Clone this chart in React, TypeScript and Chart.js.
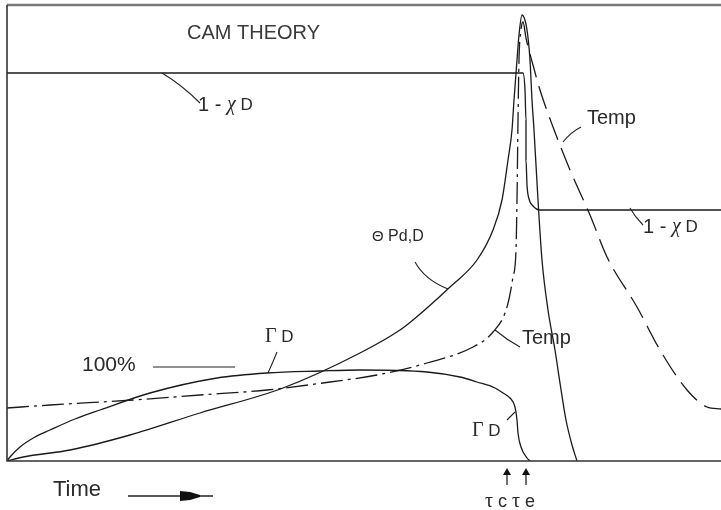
import React, { useEffect, useRef } from "react";
import { Chart, registerables } from "chart.js";
Chart.register(...registerables);

const X_MAX = 714;
const Y_MAX = 456;

// curves in (time, level) units
const oneMinusChiD = [[0,388],[516,388],[518,371],[519,341],[519,301],[520,276],[522,262],[526,255],[533,251],[545,251],[714,251]];
const thetaPdD = [[0,0],[16,4],[63,11],[123,26],[193,48],[276,73],[353,108],[393,131],[406,141],[443,174],[470,201],[486,231],[495,261],[501,301],[505,331],[507,361],[510,401],[512,426],[515,446],[520,431],[523,401],[525,361],[527,331],[531,261],[535,201],[541,151],[548,111],[553,78],[559,41],[565,16],[570,0]];
const gammaD = [[0,0],[3,4],[13,14],[28,24],[43,31],[68,42],[93,51],[143,68],[210,83],[260,88],[313,90],[353,91],[420,89],[453,84],[470,79],[488,73],[496,68],[503,63],[508,54],[510,41],[511,28],[514,14],[520,3],[523,0]];
const temperature = [[0,53],[43,56],[126,61],[193,66],[260,71],[323,79],[370,86],[420,98],[466,114],[486,129],[500,154],[506,184],[509,211],[510,261],[511,341],[512,401],[514,431],[516,439],[519,423],[526,396],[533,371],[546,334],[563,291],[583,246],[600,204],[630,154],[653,111],[680,71],[700,54],[714,52]];
const TEMP_PEAK_X = 516;

type Part = { t: string; f: string };
const SANS = "'Liberation Sans', Arial, sans-serif";
const SERIF = "'Liberation Serif', 'Times New Roman', serif";

const textLabels: { x: number; y: number; parts: Part[]; color?: string }[] = [
  { x: 180, y: 428, parts: [{ t: "CAM THEORY", f: `20px ${SANS}` }], color: "#3a3a3a" },
  { x: 191, y: 356, parts: [{ t: "1 - ", f: `20px ${SANS}` }, { t: "χ", f: `italic 20px ${SERIF}` }, { t: " D", f: `17px ${SANS}` }] },
  { x: 580, y: 343, parts: [{ t: "Temp", f: `20px ${SANS}` }] },
  { x: 636, y: 234, parts: [{ t: "1 - ", f: `20px ${SANS}` }, { t: "χ", f: `italic 20px ${SERIF}` }, { t: " D", f: `17px ${SANS}` }] },
  { x: 365, y: 224, parts: [{ t: "Θ", f: `15px ${SANS}` }, { t: " Pd,D", f: `16px ${SANS}` }] },
  { x: 258, y: 124, parts: [{ t: "Γ", f: `20px ${SERIF}` }, { t: " D", f: `17px ${SANS}` }] },
  { x: 75, y: 96, parts: [{ t: "100%", f: `21px ${SANS}` }] },
  { x: 515, y: 123, parts: [{ t: "Temp", f: `20px ${SANS}` }] },
  { x: 465, y: 30, parts: [{ t: "Γ", f: `20px ${SERIF}` }, { t: " D", f: `17px ${SANS}` }] },
  { x: 46, y: -29, parts: [{ t: "Time", f: `22px ${SANS}` }] },
  { x: 478, y: -41, parts: [{ t: "τ", f: `20px ${SERIF}` }, { t: " c ", f: `18px ${SANS}` }, { t: "τ", f: `20px ${SERIF}` }, { t: " e", f: `18px ${SANS}` }] },
];

// leader lines [x0,y0, cx,cy, x1,y1]
const leaders: number[][] = [
  [155, 388, 175, 376, 193, 358],
  [556, 319, 564, 329, 574, 334],
  [623, 253, 628, 244, 636, 236],
  [408, 199, 418, 181, 441, 172],
  [270, 109, 266, 99, 261, 88],
  [146, 94, 187, 94, 228, 94],
  [488, 131, 500, 121, 513, 114],
  [500, 41, 504, 45, 508, 49],
];

export default function App() {
  const ref = useRef<HTMLCanvasElement>(null);
  useEffect(() => {
    document.body.style.margin = "0";
    const toXY = (a: number[][]) => a.map(([x, y]) => ({ x, y }));
    const overlay = {
      id: "overlay",
      afterDatasetsDraw(chart: any) {
        const { ctx, scales, chartArea } = chart;
        const X = (v: number) => scales.x.getPixelForValue(v);
        const Y = (v: number) => scales.y.getPixelForValue(v);
        ctx.save();
        // frame
        ctx.strokeStyle = "#777";
        ctx.lineWidth = 2.5;
        ctx.beginPath();
        ctx.moveTo(chartArea.left, chartArea.top);
        ctx.lineTo(chartArea.right, chartArea.top);
        ctx.stroke();
        ctx.strokeStyle = "#333";
        ctx.lineWidth = 1.6;
        ctx.beginPath();
        ctx.moveTo(chartArea.left, chartArea.top);
        ctx.lineTo(chartArea.left, chartArea.bottom);
        ctx.lineTo(chartArea.right, chartArea.bottom);
        ctx.stroke();
        // leaders
        ctx.strokeStyle = "#222";
        ctx.lineWidth = 1.1;
        leaders.forEach(([x0, y0, cx, cy, x1, y1]) => {
          ctx.beginPath();
          ctx.moveTo(X(x0), Y(y0));
          ctx.quadraticCurveTo(X(cx), Y(cy), X(x1), Y(y1));
          ctx.stroke();
        });
        // time arrow
        ctx.lineWidth = 1.3;
        ctx.beginPath();
        ctx.moveTo(X(121), Y(-35));
        ctx.lineTo(X(206), Y(-35));
        ctx.stroke();
        ctx.fillStyle = "#111";
        ctx.beginPath();
        ctx.moveTo(X(173), Y(-30));
        ctx.lineTo(X(183), Y(-31));
        ctx.lineTo(X(193), Y(-34));
        ctx.lineTo(X(193), Y(-36));
        ctx.lineTo(X(183), Y(-39));
        ctx.lineTo(X(173), Y(-40));
        ctx.closePath();
        ctx.fill();
        // tau arrows
        [500, 519].forEach((ax) => {
          ctx.beginPath();
          ctx.moveTo(X(ax), Y(-24));
          ctx.lineTo(X(ax), Y(-12));
          ctx.stroke();
          ctx.beginPath();
          ctx.moveTo(X(ax), Y(-7));
          ctx.lineTo(X(ax) - 4, Y(-14));
          ctx.lineTo(X(ax) + 4, Y(-14));
          ctx.closePath();
          ctx.fill();
        });
        // texts
        ctx.textBaseline = "middle";
        ctx.textAlign = "left";
        textLabels.forEach((l) => {
          let px = X(l.x);
          const py = Y(l.y);
          ctx.fillStyle = l.color || "#2a2a2a";
          l.parts.forEach((p) => {
            ctx.font = p.f;
            ctx.fillText(p.t, px, py);
            px += ctx.measureText(p.t).width;
          });
        });
        ctx.restore();
      },
    };
    const line = { borderColor: "#1a1a1a", borderWidth: 1.3, pointRadius: 0, fill: false, cubicInterpolationMode: "monotone" as const };
    const chart = new Chart(ref.current!, {
      type: "line",
      data: {
        datasets: [
          { ...line, label: "1 - χD", data: toXY(oneMinusChiD) },
          { ...line, label: "Θ Pd,D", data: toXY(thetaPdD) },
          { ...line, label: "Γ'D", data: toXY(gammaD) },
          {
            ...line,
            label: "Temp",
            data: toXY(temperature),
            segment: {
              borderDash: (c: any) => (c.p0.parsed.x >= TEMP_PEAK_X ? [24, 9] : [22, 5, 3, 5]),
            },
          },
        ],
      },
      options: {
        responsive: false,
        animation: false,
        events: [],
        layout: { padding: { left: 7, top: 5, right: 0, bottom: 49 } },
        plugins: { legend: { display: false }, tooltip: { enabled: false } },
        scales: {
          x: { type: "linear", min: 0, max: X_MAX, display: false },
          y: { type: "linear", min: 0, max: Y_MAX, display: false },
        },
      },
      plugins: [overlay],
    });
    return () => chart.destroy();
  }, []);
  return (
    <div style={{ width: 721, height: 510, background: "#fff" }}>
      <canvas ref={ref} width={721} height={510} style={{ display: "block" }} />
    </div>
  );
}
